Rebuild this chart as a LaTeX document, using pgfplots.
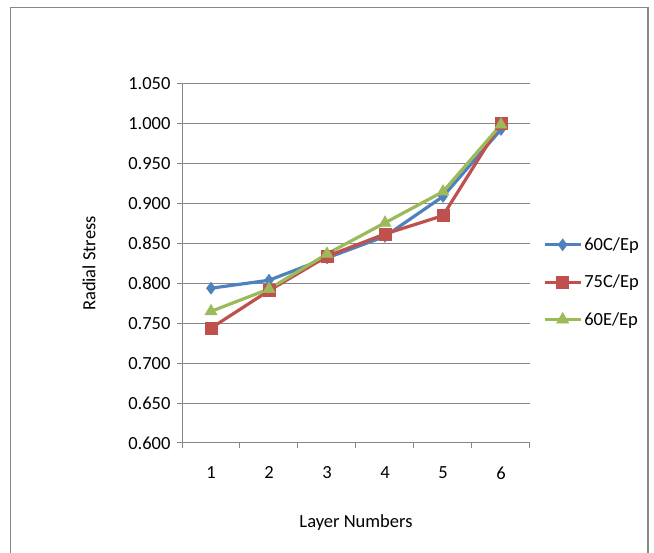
\documentclass[border=0pt]{standalone}
\usepackage{pgfplots}
\pgfplotsset{compat=1.18}
\usepackage{fontspec}
\setmainfont{Carlito}

\definecolor{serA}{HTML}{4F81BD}
\definecolor{serB}{HTML}{C0504D}
\definecolor{serC}{HTML}{9BBB59}
\definecolor{gridgray}{HTML}{868686}
\definecolor{framegray}{HTML}{878787}

\begin{document}
\begin{tikzpicture}[x=1pt,y=1pt]
\useasboundingbox (0,0) rectangle (654,553);
% chart frame (open at the bottom)
\draw[framegray, line width=1.5pt] (10.5,0) -- (10.5,545.5) -- (648,545.5) -- (648,0);

\begin{axis}[
  at={(182pt,110pt)}, anchor=south west,
  scale only axis, width=348pt, height=359pt,
  xmin=0.5, xmax=6.5, ymin=0.6, ymax=1.05,
  font=\fontsize{18.5}{22}\selectfont,
  axis lines*=left,
  axis line style={gridgray, line width=1pt, -},
  xtick={0.5,1.5,...,6.5}, xticklabels={},
  extra x ticks={1,2,3,4,5,6},
  extra x tick labels={1,2,3,4,5,6},
  extra x tick style={major tick length=0pt, grid=none,
    xticklabel style={yshift=-20pt}},
  ytick={0.6,0.65,...,1.05},
  tick align=outside, major tick length=5pt,
  tick style={gridgray, line width=1pt},
  ymajorgrids, grid style={gridgray, line width=1pt},
  yticklabel style={/pgf/number format/.cd, fixed, fixed zerofill, precision=3, /tikz/.cd, xshift=-3pt},
  /pgf/number format/assume math mode=true,
  xlabel={Layer Numbers}, ylabel={Radial Stress},
  xlabel style={at={(axis description cs:0.5,-0.223)}, anchor=center},
  ylabel style={at={(axis description cs:-0.267,0.5)}, anchor=center},
  legend style={at={(axis description cs:1.037,0.448)}, anchor=west,
    draw=none, fill=none, inner sep=0pt, row sep=19pt,
    font=\fontsize{18.5}{22}\selectfont},
  legend cell align=left,
  legend image code/.code={%
    \draw[mark repeat=2, mark phase=2] plot coordinates {(0pt,0pt) (18pt,0pt) (36pt,0pt)};},
  every axis plot/.append style={line width=3.2pt},
]
\addplot[serA, mark=diamond*, mark size=6pt, mark options={solid, line width=0.5pt}]
  coordinates {(1,0.794) (2,0.804) (3,0.832) (4,0.859) (5,0.909) (6,0.993)};
\addlegendentry{60C/Ep}
\addplot[serB, mark=square*, mark size=6pt, mark options={solid, line width=0.5pt}]
  coordinates {(1,0.744) (2,0.791) (3,0.834) (4,0.862) (5,0.885) (6,1.001)};
\addlegendentry{75C/Ep}
\addplot[serC, mark=triangle*, mark size=7pt, mark options={solid, line width=0.5pt}]
  coordinates {(1,0.765) (2,0.793) (3,0.837) (4,0.876) (5,0.915) (6,0.999)};
\addlegendentry{60E/Ep}
\end{axis}
\end{tikzpicture}
\end{document}
